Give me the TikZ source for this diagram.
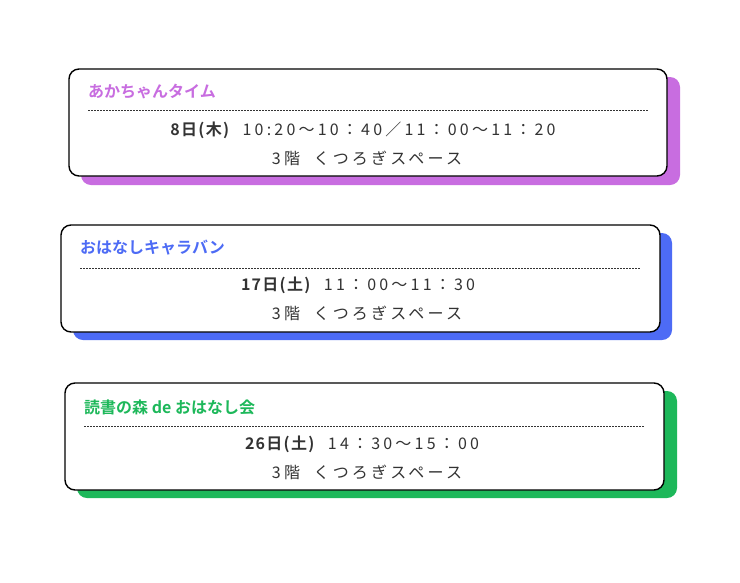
\documentclass[tikz,border=0pt]{standalone}
\usepackage{fontspec}
\newfontfamily\jp[LetterSpace=20]{Noto Sans CJK JP}
\newfontfamily\jpb{Noto Sans CJK JP Bold}
\newfontfamily\jpbs[LetterSpace=8]{Noto Sans CJK JP Bold}
\definecolor{cpur}{HTML}{C86DE0}
\definecolor{cblu}{HTML}{4D6BF5}
\definecolor{cgrn}{HTML}{1DB85A}
\definecolor{ctxt}{HTML}{333333}
\tikzset{
 card/.style={draw=black,line width=1.4pt,fill=white,rounded corners=10pt},
 shad/.style={rounded corners=10pt},
 ttl/.style={anchor=west,font=\jpb\fontsize{16}{18}\selectfont,inner sep=0},
 dline/.style={dash pattern=on 2pt off 1pt,line width=0.7pt,draw=ctxt},
 txt/.style={font=\jp\fontsize{16}{18}\selectfont,text=ctxt,inner sep=0}
}
\begin{document}
\begin{tikzpicture}[x=1pt,y=-1pt]
\useasboundingbox[fill=white] (0,0) rectangle (740,582);
% card 1
\fill[shad,cpur] (81,77) rectangle (680,185);
\draw[card] (69,69) rectangle (667,176);
\node[ttl,text=cpur] (t1) at (88,92) {あかちゃんタイム};
\draw[dline] (88,110) -- (648,110);
\node[txt] (a1) at (363,130) {{\jpbs 8日(木)}\ \ 10:20～10：40／11：00～11：20};
\node[txt] (b1) at (367,158) {3階\ \ くつろぎスペース};
% card 2
\fill[shad,cblu] (73,233) rectangle (672,340);
\draw[card] (61,225) rectangle (660,332);
\node[ttl,text=cblu] (t2) at (80,248) {おはなしキャラバン};
\draw[dline] (80,268) -- (640,268);
\node[txt] (a2) at (358,285) {{\jpbs 17日(土)}\ \ 11：00～11：30};
\node[txt] (b2) at (367,313) {3階\ \ くつろぎスペース};
% card 3
\fill[shad,cgrn] (77,391) rectangle (677,498);
\draw[card] (65,383) rectangle (664,490);
\node[ttl,text=cgrn] (t3) at (84,407) {読書の森 de おはなし会};
\draw[dline] (84,426) -- (644,426);
\node[txt] (a3) at (362,444) {{\jpbs 26日(土)}\ \ 14：30～15：00};
\node[txt] (b3) at (367,472) {3階\ \ くつろぎスペース};
\end{tikzpicture}
\end{document}
